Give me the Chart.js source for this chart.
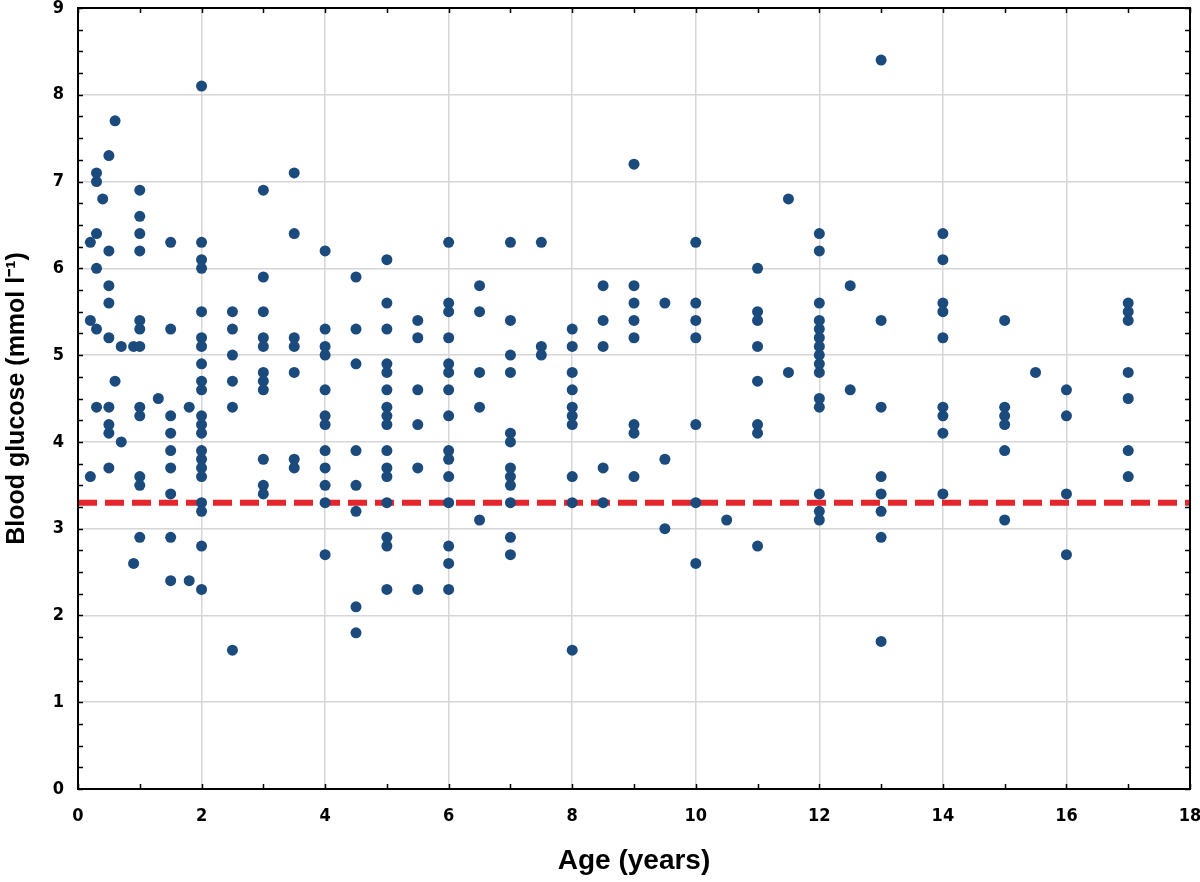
<!DOCTYPE html>
<html>
<head>
<meta charset="utf-8">
<script src="https://cdn.jsdelivr.net/npm/chart.js@4.4.1/dist/chart.umd.min.js"></script>
<style>
  html, body { margin: 0; padding: 0; background: #ffffff; }
  #wrap { width: 1200px; height: 882px; }
</style>
</head>
<body>
<div id="wrap"><canvas id="c" width="1200" height="882"></canvas></div>
<script>
// ---- Data ----
const ageGroups = [0.2, 0.3, 0.4, 0.5, 0.6, 0.7, 0.9, 1, 1.3, 1.5, 1.8, 2, 2.5, 3, 3.5, 4, 4.5, 5, 5.5, 6, 6.5, 7, 7.5, 8, 8.5, 9, 9.5, 10, 10.5, 11, 11.5, 12, 12.5, 13, 14, 15, 15.5, 16, 17];
const glucoseAtAge = [
  [6.3, 5.4, 3.6],
  [7.1, 7.0, 6.4, 6.0, 5.3, 4.4],
  [6.8],
  [7.3, 6.2, 5.8, 5.6, 5.2, 4.4, 4.2, 4.1, 3.7],
  [7.7, 4.7],
  [5.1, 4.0],
  [5.1, 2.6],
  [6.9, 6.6, 6.4, 6.2, 5.4, 5.3, 5.1, 4.4, 4.3, 3.6, 3.5, 2.9],
  [4.5],
  [6.3, 5.3, 4.3, 4.1, 3.9, 3.7, 3.4, 2.9, 2.4],
  [4.4, 2.4],
  [8.1, 6.3, 6.1, 6.0, 5.5, 5.2, 5.1, 4.9, 4.7, 4.6, 4.3, 4.2, 4.1, 3.9, 3.8, 3.7, 3.6, 3.3, 3.2, 2.8, 2.3],
  [5.5, 5.3, 5.0, 4.7, 4.4, 1.6],
  [6.9, 5.9, 5.5, 5.2, 5.1, 4.8, 4.7, 4.6, 3.8, 3.5, 3.4],
  [7.1, 6.4, 5.2, 5.1, 4.8, 3.8, 3.7],
  [6.2, 5.3, 5.1, 5.0, 4.6, 4.3, 4.2, 3.9, 3.7, 3.5, 3.3, 2.7],
  [5.9, 5.3, 4.9, 3.9, 3.5, 3.2, 2.1, 1.8],
  [6.1, 5.6, 5.3, 4.9, 4.8, 4.6, 4.4, 4.3, 4.2, 3.9, 3.7, 3.6, 3.3, 2.9, 2.8, 2.3],
  [5.4, 5.2, 4.6, 4.2, 3.7, 2.3],
  [6.3, 5.6, 5.5, 5.2, 4.9, 4.8, 4.6, 4.3, 3.9, 3.8, 3.6, 3.3, 2.8, 2.6, 2.3],
  [5.8, 5.5, 4.8, 4.4, 3.1],
  [6.3, 5.4, 5.0, 4.8, 4.1, 4.0, 3.7, 3.6, 3.5, 3.3, 2.9, 2.7],
  [6.3, 5.1, 5.0],
  [5.3, 5.1, 4.8, 4.6, 4.4, 4.3, 4.2, 3.6, 3.3, 1.6],
  [5.8, 5.4, 5.1, 3.7, 3.3],
  [7.2, 5.8, 5.6, 5.4, 5.2, 4.2, 4.1, 3.6],
  [5.6, 3.8, 3.0],
  [6.3, 5.6, 5.4, 5.2, 4.2, 3.3, 2.6],
  [3.1],
  [6.0, 5.5, 5.4, 5.1, 4.7, 4.2, 4.1, 2.8],
  [6.8, 4.8],
  [6.4, 6.2, 5.6, 5.4, 5.3, 5.2, 5.1, 5.0, 4.9, 4.8, 4.5, 4.4, 3.4, 3.2, 3.1],
  [5.8, 4.6],
  [8.4, 5.4, 4.4, 3.6, 3.4, 3.2, 2.9, 1.7],
  [6.4, 6.1, 5.6, 5.5, 5.2, 4.4, 4.3, 4.1, 3.4],
  [5.4, 4.4, 4.3, 4.2, 3.9, 3.1],
  [4.8],
  [4.6, 4.3, 3.4, 2.7],
  [5.6, 5.5, 5.4, 4.8, 4.5, 3.9, 3.6]
];
const thresholdGlucose = 3.3;
const thresholdSpan = [0, 18];
const xTickLabels = [0, 2, 4, 6, 8, 10, 12, 14, 16, 18];
const yTickLabels = [0, 1, 2, 3, 4, 5, 6, 7, 8, 9];
const xTitle = 'Age (years)';
const yTitle = 'Blood glucose (mmol l\u207B\u00B9)';

// ---- Build library data from the arrays ----
const points = [];
ageGroups.forEach((a, i) => glucoseAtAge[i].forEach(g => points.push({ x: a, y: g })));
const thresholdLine = thresholdSpan.map(a => ({ x: a, y: thresholdGlucose }));

const tickFont = { family: "'DejaVu Sans Condensed', 'Liberation Sans', Arial, sans-serif", size: 18, weight: 'bold' };
const xTitleFont = { family: "'Liberation Sans', Arial, sans-serif", size: 28, weight: 'bold' };
const yTitleFont = { family: "'Liberation Sans', Arial, sans-serif", size: 25, weight: 'bold' };

const framePlugin = {
  id: 'frame',
  afterDraw(chart) {
    const { ctx, chartArea: a, scales } = chart;
    ctx.save();
    ctx.strokeStyle = '#000';
    ctx.lineWidth = 1.5;
    ctx.beginPath();
    for (let v = 0; v <= 9.0001; v += 0.25) {
      const py = Math.round(scales.y.getPixelForValue(v)) + 0.5;
      ctx.moveTo(a.left, py); ctx.lineTo(a.left + 5, py);
      ctx.moveTo(a.right, py); ctx.lineTo(a.right - 5, py);
    }
    for (let v = 0; v <= 18; v += 1) {
      const px = Math.round(scales.x.getPixelForValue(v)) + 0.5;
      ctx.moveTo(px, a.top); ctx.lineTo(px, a.top + 5);
      ctx.moveTo(px, a.bottom); ctx.lineTo(px, a.bottom - 5);
    }
    ctx.stroke();
    ctx.lineWidth = 2;
    ctx.strokeRect(a.left, a.top, a.right - a.left, a.bottom - a.top);
    ctx.restore();
  }
};

new Chart(document.getElementById('c'), {
  type: 'scatter',
  data: {
    datasets: [
      {
        data: points,
        backgroundColor: '#1b4a7c',
        borderWidth: 0,
        pointRadius: 5.5,
        order: 0
      },
      {
        type: 'line',
        data: thresholdLine,
        borderColor: '#e3262b',
        borderWidth: 6,
        borderDash: [19, 8],
        pointRadius: 0,
        fill: false,
        order: 1
      }
    ]
  },
  options: {
    responsive: false,
    animation: false,
    events: [],
    layout: { padding: { top: 8, right: 10, left: 0, bottom: 0 } },
    plugins: { legend: { display: false }, tooltip: { enabled: false } },
    scales: {
      x: {
        type: 'linear', min: 0, max: 18,
        afterFit: s => { s.height = 93; s.paddingLeft = 0; s.paddingRight = 0; },
        afterBuildTicks: s => { s.ticks = Array.from({ length: 19 }, (_, i) => ({ value: i })); },
        ticks: {
          autoSkip: false, maxRotation: 0, color: '#000', font: tickFont, padding: 17,
          callback: v => (xTickLabels.includes(v) ? String(v) : '')
        },
        grid: {
          drawTicks: false, lineWidth: 1.5,
          color: c => (c.tick && xTickLabels.includes(c.tick.value) ? '#d6d6d6' : 'rgba(0,0,0,0)')
        },
        border: { display: false },
        title: { display: true, text: xTitle, color: '#000', font: xTitleFont, padding: { top: 0, bottom: 4 } }
      },
      y: {
        type: 'linear', min: 0, max: 9,
        afterFit: s => { s.width = 78; s.paddingTop = 0; s.paddingBottom = 0; },
        afterBuildTicks: s => { s.ticks = yTickLabels.map(v => ({ value: v })); },
        ticks: { color: '#000', font: tickFont, padding: 14, callback: v => String(v) },
        grid: { drawTicks: false, lineWidth: 1.5, color: '#d6d6d6' },
        border: { display: false },
        title: { display: true, text: yTitle, color: '#000', font: yTitleFont, padding: { top: 2, bottom: 0 } }
      }
    }
  },
  plugins: [framePlugin]
});
</script>
</body>
</html>
